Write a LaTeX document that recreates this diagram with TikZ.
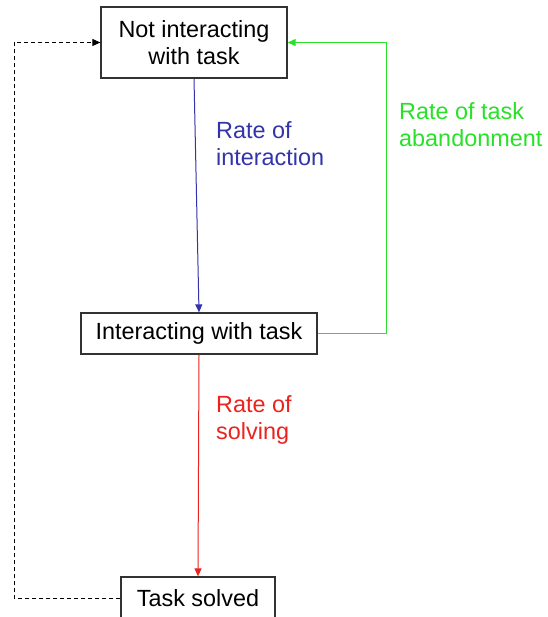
\documentclass[tikz,border=0pt]{standalone}
\usepackage{fontspec}
\setmainfont{Liberation Sans}
\usetikzlibrary{arrows.meta}
\definecolor{flowblue}{RGB}{51,51,170}
\definecolor{flowgreen}{RGB}{40,225,40}
\definecolor{flowred}{RGB}{235,35,30}
\definecolor{boxgray}{RGB}{50,50,50}
\begin{document}
\begin{tikzpicture}[x=1pt,y=-1pt,
  statebox/.style={draw=boxgray,line width=1.3pt,fill=white,inner sep=0pt,
    align=center,font=\fontsize{23.4}{27}\selectfont},
  ratelabel/.style={anchor=west,align=left,inner sep=0pt,
    font=\fontsize{23.4}{27}\selectfont},
  flow/.style={line width=1pt,-{Triangle[length=8pt,width=7pt]}},
  loopback/.style={flow,dash pattern=on 4pt off 3pt,black}]
\clip (0,0) rectangle (547,617);
\fill[white] (0,0) rectangle (547,617);

% states
\node[statebox,minimum width=186pt,minimum height=71pt] (idle) at (194,42.5)
  {Not interacting\\with task};
\node[statebox,minimum width=236pt,minimum height=41pt] (busy) at (199,333.5)
  {Interacting with task};
\node[statebox,minimum width=154pt,minimum height=42pt] (done) at (198,598)
  {Task solved};

% turning points of the loops
\coordinate (gturn) at (386,333.5);
\coordinate (dturn) at (14,598);

% transitions
\draw[flow,flowblue] (idle.south) -- (busy.north);
\draw[flow,flowred] (busy.south) -- (done.north);
\draw[flow,flowgreen] (busy.east) -- (gturn) |- (idle.east);
\draw[loopback] (done.west) -- (dturn) |- (idle.west);

% rate labels
\node[ratelabel,text=flowblue] (rint) at (216,144) {Rate of\\interaction};
\node[ratelabel,text=flowgreen] (rab) at (399,125) {Rate of task\\abandonment};
\node[ratelabel,text=flowred] (rsol) at (216,420) {Rate of\\solving};
\end{tikzpicture}
\end{document}
